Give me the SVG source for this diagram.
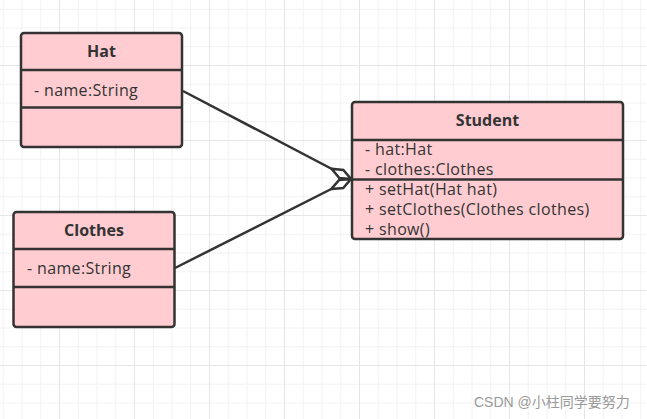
<svg xmlns="http://www.w3.org/2000/svg" width="647" height="419" viewBox="0 0 647 419">
<style>
.box{fill:#ffccd1;stroke:#333333;stroke-width:2.5}
.div{stroke:#333333;stroke-width:2.5}
.t{font-family:"Open Sans","Noto Sans",sans-serif;font-size:16px;fill:#333333;letter-spacing:0.35px}
.b{font-weight:bold;text-anchor:middle;letter-spacing:0}
.conn{stroke:#333333;stroke-width:2.5;fill:none}
.wm{font-family:"Liberation Sans","Noto Sans CJK SC",sans-serif;font-size:14px;fill:#9a9a9a}
</style>
<defs>
<pattern id="grid" x="59" y="65" width="75" height="75" patternUnits="userSpaceOnUse">
<path d="M19.25 0V75M38 0V75M56.75 0V75M0 19.25H75M0 38H75M0 56.75H75" stroke="#f2f2f2" stroke-width="1" fill="none"/>
<path d="M0.5 0V75M0 0.5H75" stroke="#e6e6e6" stroke-width="1" fill="none"/>
</pattern>
<marker id="agg" viewBox="-2 -8 26 16" refX="22" refY="0" markerWidth="26" markerHeight="16" markerUnits="userSpaceOnUse" orient="auto" overflow="visible">
<path d="M0 0L11 -4.5L22 0L11 4.5Z" fill="#ffffff" stroke="#333333" stroke-width="2.5" stroke-linejoin="miter"/>
</marker>
</defs>
<rect width="647" height="419" fill="#ffffff"/>
<rect width="647" height="419" fill="url(#grid)"/>
<g id="connectors">
<line class="conn" x1="183" y1="91" x2="351" y2="179" marker-end="url(#agg)"/>
<line class="conn" x1="175" y1="268" x2="351" y2="179" marker-end="url(#agg)"/>
</g>
<g id="hat">
<rect class="box" x="21" y="33" width="161" height="114" rx="3"/>
<line class="div" x1="21" y1="70" x2="182" y2="70"/>
<line class="div" x1="21" y1="107.5" x2="182" y2="107.5"/>
<text class="t b" x="101.5" y="57">Hat</text>
<text class="t" x="34" y="96">- name:String</text>
</g>
<g id="clothes">
<rect class="box" x="13.5" y="212" width="161" height="115" rx="3"/>
<line class="div" x1="13.5" y1="249" x2="174.5" y2="249"/>
<line class="div" x1="13.5" y1="287" x2="174.5" y2="287"/>
<text class="t b" x="94" y="236">Clothes</text>
<text class="t" x="27" y="274">- name:String</text>
</g>
<g id="student">
<rect class="box" x="352" y="102" width="271" height="137" rx="3"/>
<line class="div" x1="352" y1="140" x2="623" y2="140"/>
<line class="div" x1="352" y1="179.5" x2="623" y2="179.5"/>
<text class="t b" x="487.5" y="126">Student</text>
<text class="t" x="365" y="155">- hat:Hat</text>
<text class="t" x="365" y="175">- clothes:Clothes</text>
<text class="t" x="365" y="195">+ setHat(Hat hat)</text>
<text class="t" x="365" y="215">+ setClothes(Clothes clothes)</text>
<text class="t" x="365" y="235">+ show()</text>
</g>
<text class="wm" x="474" y="407">CSDN @小柱同学要努力</text>
</svg>
